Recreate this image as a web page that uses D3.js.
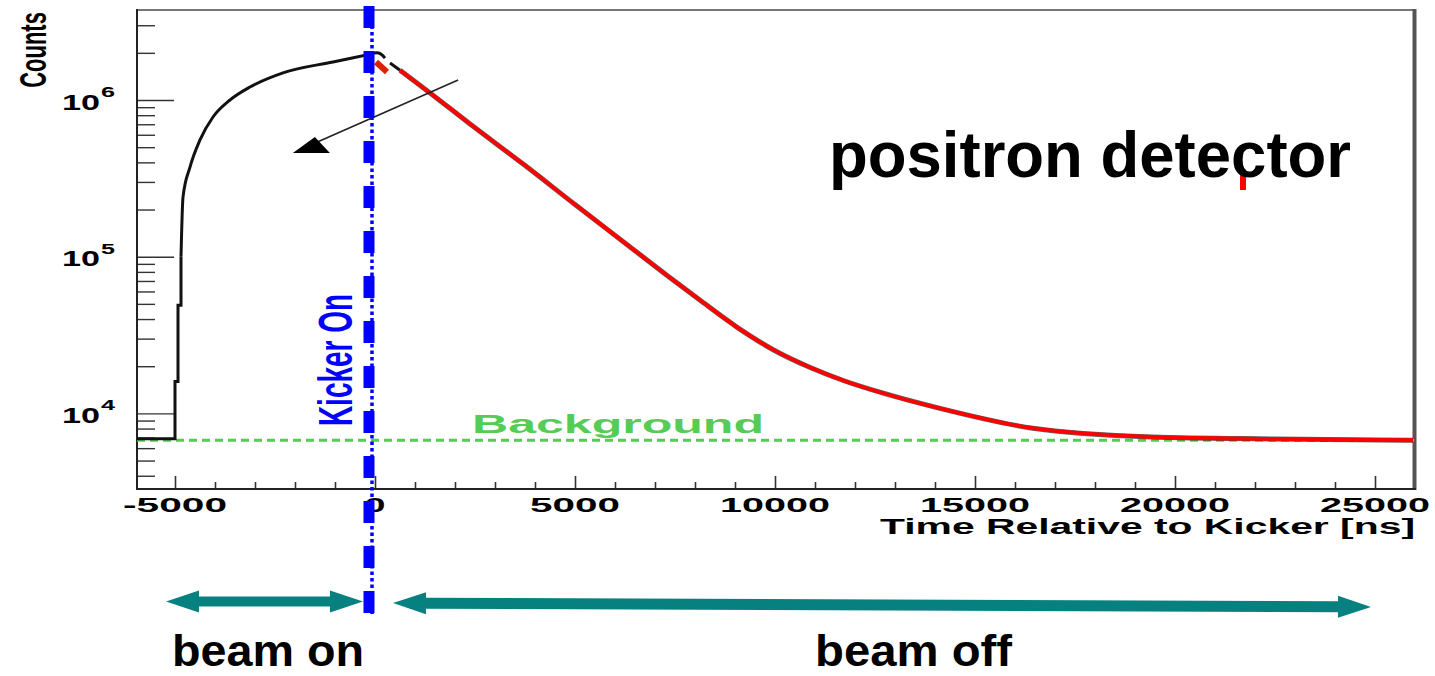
<!DOCTYPE html>
<html>
<head>
<meta charset="utf-8">
<script src="https://cdn.jsdelivr.net/npm/d3@7"></script>
<style>
  body { margin: 0; background: #fff; }
  svg { display: block; font-family: "Liberation Sans", Arial, sans-serif; }
</style>
</head>
<body>
<div id="chart"></div>
<script>
// black histogram before the kick (ns, counts): stepped rise, then smooth part
const riseTime = [-5950, -5000, -5000, -4925, -4925, -4850, -4850];
const riseCounts = [6900, 6900, 16000, 16000, 49000, 49000, 100000];
const preTime = [-4850, -4800, -4625, -4375, -4050, -3625, -3125, -2300, -1050, -200, 50, 175, 250];
const preCounts = [100000, 240000, 373000, 556000, 779000, 1000000, 1210000, 1490000, 1750000, 1940000, 2000000, 1940000, 1850000];

// short pieces right after the kick
const kickRedTime = [25, 300];
const kickRedCounts = [1750000, 1510000];
const kickBlackTime = [375, 626];
const kickBlackCounts = [1720000, 1550000];

// exponential fit (red) over the decay
const fitTime = [626, 1377, 2353, 3705, 5033, 6385, 7286, 8162, 9064, 9965, 10866, 11743, 12644, 14100, 16400, 19430, 22480, 25950];
const fitCounts = [1550000, 1110000, 710000, 390000, 212000, 115000, 76400, 51900, 35300, 25400, 19700, 16100, 13600, 10800, 8070, 7070, 6870, 6740];

const background = 6750;

const xMajor = [-5000, 0, 5000, 10000, 15000, 20000, 25000];
const xLabels = ["-5000", "0", "5000", "10000", "15000", "20000", "25000"];
const yMajor = [1e4, 1e5, 1e6];
const yExp = ["4", "5", "6"];

const width = 1435, height = 676;
const svg = d3.select("#chart").append("svg")
  .attr("width", width)
  .attr("height", height);

const x = d3.scaleLinear().domain([-5950, 25975]).range([137, 1414]);
const y = d3.scaleLog().domain([3292, 3.753e6]).range([489, 10]);

// minor ticks
const xMinor = d3.range(-5000, 26000, 1000).filter(d => d % 5000 !== 0);
const yMinor = [];
[1e3, 1e4, 1e5, 1e6].forEach(dec => {
  for (let k = 2; k <= 9; k++) {
    const v = dec * k;
    if (v > y.domain()[0] && v < y.domain()[1]) yMinor.push(v);
  }
});

// x axis ticks (pointing up)
svg.append("g")
  .attr("transform", `translate(0,489)`)
  .call(d3.axisTop(x).tickValues(xMinor).tickSize(7).tickFormat(""))
  .call(g => g.select(".domain").remove())
  .selectAll("line").attr("stroke", "#333").attr("stroke-width", 1.6);
svg.append("g")
  .attr("transform", `translate(0,489)`)
  .call(d3.axisTop(x).tickValues(xMajor).tickSize(13).tickFormat(""))
  .call(g => g.select(".domain").remove())
  .selectAll("line").attr("stroke", "#333").attr("stroke-width", 1.6);

// y axis ticks (pointing right)
svg.append("g")
  .attr("transform", `translate(137,0)`)
  .call(d3.axisRight(y).tickValues(yMinor).tickSize(18).tickFormat(""))
  .call(g => g.select(".domain").remove())
  .selectAll("line").attr("stroke", "#333").attr("stroke-width", 1.4);
svg.append("g")
  .attr("transform", `translate(137,0)`)
  .call(d3.axisRight(y).tickValues(yMajor).tickSize(37).tickFormat(""))
  .call(g => g.select(".domain").remove())
  .selectAll("line").attr("stroke", "#333").attr("stroke-width", 1.4);

// frame
svg.append("line").attr("x1", 137).attr("x2", 1414).attr("y1", 10).attr("y2", 10)
  .attr("stroke", "#777").attr("stroke-width", 2);
svg.append("line").attr("x1", 1414.5).attr("x2", 1414.5).attr("y1", 9).attr("y2", 490)
  .attr("stroke", "#555").attr("stroke-width", 4);
svg.append("line").attr("x1", 137).attr("x2", 137).attr("y1", 9).attr("y2", 490)
  .attr("stroke", "#222").attr("stroke-width", 2);
svg.append("line").attr("x1", 136).attr("x2", 1416).attr("y1", 489).attr("y2", 489)
  .attr("stroke", "#222").attr("stroke-width", 2.2);

// tick labels
const xLabelWidth = d => d.length === 5 ? (d[0] === "-" ? 104 : 110) : d.length === 4 ? 90 : 21;
svg.append("g").selectAll("text")
  .data(xMajor)
  .join("text")
  .attr("x", (d, i) => x(d) - xLabelWidth(xLabels[i]) / 2)
  .attr("y", 512)
  .attr("textLength", (d, i) => xLabelWidth(xLabels[i]))
  .attr("lengthAdjust", "spacingAndGlyphs")
  .style("font-size", "20px")
  .style("font-weight", "bold")
  .text((d, i) => xLabels[i]);

const yLab = svg.append("g").selectAll("g")
  .data(yMajor)
  .join("g");
yLab.append("text")
  .attr("x", 62)
  .attr("y", d => y(d) + 9.5)
  .attr("textLength", 38)
  .attr("lengthAdjust", "spacingAndGlyphs")
  .style("font-size", "22px")
  .style("font-weight", "bold")
  .text("10");
yLab.append("text")
  .attr("x", 101)
  .attr("y", d => y(d) - 3)
  .attr("textLength", 14)
  .attr("lengthAdjust", "spacingAndGlyphs")
  .style("font-size", "14px")
  .style("font-weight", "bold")
  .text((d, i) => yExp[i]);

// axis titles
svg.append("text")
  .attr("x", 880).attr("y", 534)
  .attr("textLength", 535)
  .attr("lengthAdjust", "spacingAndGlyphs")
  .style("font-size", "22px")
  .style("font-weight", "bold")
  .text("Time Relative to Kicker [ns]");

svg.append("text")
  .attr("transform", "translate(46,50) scale(1.7,1) rotate(-90)")
  .attr("text-anchor", "middle")
  .style("font-size", "22px")
  .style("font-weight", "bold")
  .text("Counts");

// background level
svg.append("line")
  .attr("x1", x(-5950)).attr("x2", x(25975))
  .attr("y1", y(background)).attr("y2", y(background))
  .attr("stroke", "#52cc52")
  .attr("stroke-width", 3)
  .attr("stroke-dasharray", "8,5");

svg.append("text")
  .attr("x", 472).attr("y", 433)
  .attr("textLength", 292)
  .attr("lengthAdjust", "spacingAndGlyphs")
  .style("font-size", "25px")
  .style("font-weight", "bold")
  .style("fill", "#55cc55")
  .text("Background");

// curves
const line = d3.line().x(d => x(d[0])).y(d => y(d[1]));
const smoothLine = d3.line().x(d => x(d[0])).y(d => y(d[1])).curve(d3.curveMonotoneX);

const fit = d3.zip(fitTime, fitCounts);

svg.append("path")
  .datum(d3.zip(riseTime, riseCounts))
  .attr("fill", "none")
  .attr("stroke", "#111")
  .attr("stroke-width", 3)
  .attr("d", line);

svg.append("path")
  .datum(d3.zip(preTime, preCounts))
  .attr("fill", "none")
  .attr("stroke", "#111")
  .attr("stroke-width", 3)
  .attr("d", smoothLine);

svg.append("path")
  .datum(d3.zip(kickBlackTime, kickBlackCounts))
  .attr("fill", "none")
  .attr("stroke", "#111")
  .attr("stroke-width", 3)
  .attr("d", line);

// black histogram underneath the fit
svg.append("path")
  .datum(fit)
  .attr("fill", "none")
  .attr("stroke", "#222")
  .attr("stroke-width", 5)
  .attr("stroke-opacity", 0.7)
  .attr("d", smoothLine);

svg.append("path")
  .datum(fit)
  .attr("fill", "none")
  .attr("stroke", "#ff0000")
  .attr("stroke-width", 3.8)
  .attr("d", smoothLine);

svg.append("path")
  .datum(d3.zip(kickRedTime, kickRedCounts))
  .attr("fill", "none")
  .attr("stroke", "#dd2200")
  .attr("stroke-width", 6)
  .attr("d", line);

// thin arrow with head
const arrowFrom = [2078, 1.34e6];
const arrowTo = [-2053, 4.59e5];
const tipX = x(arrowTo[0]), tipY = y(arrowTo[1]);
svg.append("line")
  .attr("x1", x(arrowFrom[0])).attr("y1", y(arrowFrom[1]))
  .attr("x2", tipX + 20).attr("y2", tipY - 9)
  .attr("stroke", "#222")
  .attr("stroke-width", 1.6);
svg.append("polygon")
  .attr("points", [[tipX, tipY], [tipX + 22, tipY - 16], [tipX + 37, tipY]].map(p => p.join(",")).join(" "))
  .attr("fill", "#000");

// stray red mark
svg.append("rect")
  .attr("x", 1240).attr("y", 175).attr("width", 6).attr("height", 15)
  .attr("fill", "#ff0000");

// slide text
svg.append("text")
  .attr("x", 829).attr("y", 177)
  .attr("textLength", 522)
  .attr("lengthAdjust", "spacingAndGlyphs")
  .style("font-size", "64px")
  .style("font-weight", "bold")
  .text("positron detector");

// Kicker On line
const kickDash = x(-150), kickDot = x(-75);
svg.append("line")
  .attr("x1", kickDot).attr("x2", kickDot)
  .attr("y1", 6).attr("y2", 616)
  .attr("stroke", "#0000ff")
  .attr("stroke-width", 3.5)
  .attr("stroke-dasharray", "3.5,3");
svg.append("line")
  .attr("x1", kickDash).attr("x2", kickDash)
  .attr("y1", 6).attr("y2", 616)
  .attr("stroke", "#0000ff")
  .attr("stroke-width", 11)
  .attr("stroke-dasharray", "22,23");

svg.append("text")
  .attr("transform", "translate(352,360) scale(1.75,1) rotate(-90)")
  .attr("text-anchor", "middle")
  .style("font-size", "28px")
  .style("font-weight", "bold")
  .style("fill", "#0000ff")
  .text("Kicker On");

// beam on / off arrows
function doubleArrow(x1, y1, x2, y2, thick, headLen, headHalf) {
  const dx = x2 - x1, dy = y2 - y1, len = Math.hypot(dx, dy);
  const ux = dx / len, uy = dy / len, nx = -uy, ny = ux;
  const p = (s, t) => [x1 + ux * s + nx * t, y1 + uy * s + ny * t];
  const pts = [
    p(0, 0), p(headLen, -headHalf), p(headLen, -thick / 2),
    p(len - headLen, -thick / 2), p(len - headLen, -headHalf), p(len, 0),
    p(len - headLen, headHalf), p(len - headLen, thick / 2),
    p(headLen, thick / 2), p(headLen, headHalf)
  ];
  svg.append("polygon")
    .attr("points", pts.map(q => q.join(",")).join(" "))
    .attr("fill", "#078080");
}
doubleArrow(x(-5225), 601.5, x(-300), 601.5, 10, 33, 11);
doubleArrow(x(450), 603, x(24900), 607, 11, 33, 11);

svg.append("text")
  .attr("x", 172).attr("y", 666)
  .attr("textLength", 192)
  .attr("lengthAdjust", "spacingAndGlyphs")
  .style("font-size", "44px")
  .style("font-weight", "bold")
  .text("beam on");

svg.append("text")
  .attr("x", 815).attr("y", 666)
  .attr("textLength", 197)
  .attr("lengthAdjust", "spacingAndGlyphs")
  .style("font-size", "44px")
  .style("font-weight", "bold")
  .text("beam off");
</script>
</body>
</html>
